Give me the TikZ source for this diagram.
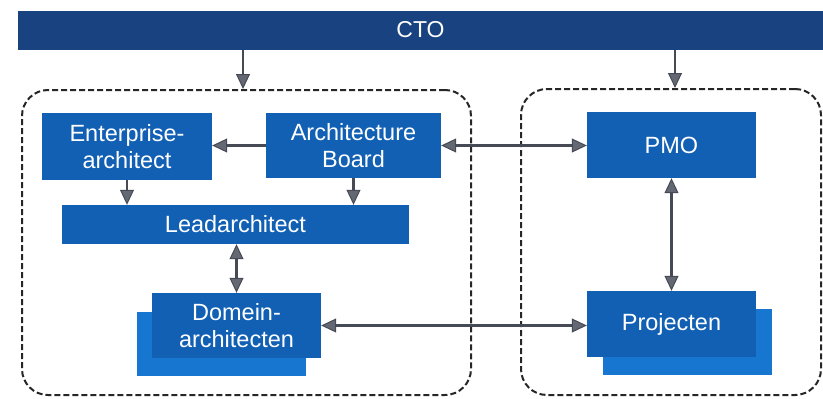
\documentclass[tikz,border=0pt]{standalone}
\usepackage{fontspec}
\setmainfont{Liberation Sans}
\usetikzlibrary{arrows.meta}
\definecolor{ctoblue}{RGB}{24,66,128}
\definecolor{boxblue}{RGB}{18,96,180}
\definecolor{backblue}{RGB}{22,118,208}
\definecolor{linkgray}{RGB}{70,74,84}
\definecolor{tipgray}{RGB}{100,104,114}
\tikzset{
	box/.style={fill=boxblue, text=white, align=center, inner sep=0pt, font=\fontsize{23.5}{27}\selectfont},
	backbox/.style={fill=backblue, inner sep=0pt},
	group/.style={draw=black!85, line width=2pt, dash pattern=on 6pt off 3pt, rounded corners=26pt, inner sep=0pt},
	tip/.style={Triangle[length=15pt,width=14pt,fill=tipgray,line width=1pt]},
	link/.style={draw=linkgray, line width=2.4pt, -{Triangle[length=15pt,width=14pt,fill=tipgray,line width=1pt]}},
	dlink/.style={draw=linkgray, line width=2.4pt, {Triangle[length=15pt,width=14pt,fill=tipgray,line width=1pt]}-{Triangle[length=15pt,width=14pt,fill=tipgray,line width=1pt]}},
}

\begin{document}
\begin{tikzpicture}[x=1pt, y=-1pt]
			%%%%% START %%%%%
			\useasboundingbox (0, 0) rectangle (823, 399);
			
			\node[fill=ctoblue, text=white, inner sep=0pt, minimum width=805pt, minimum height=39pt, font=\fontsize{23}{26}\selectfont] (cto) at (420.5, 30) {CTO};
			
			\node[group, minimum width=449pt, minimum height=305pt] (grpL) at (246.5, 242.5) {};
			\node[group, minimum width=300pt, minimum height=306pt] (grpR) at (671, 242) {};
			
			\node[box, minimum width=170pt, minimum height=67pt] (ent) at (127, 146.5) {Enterprise-\\architect};
			\node[box, minimum width=175pt, minimum height=65pt] (board) at (353.5, 145.5) {Architecture\\Board};
			\node[box, minimum width=347pt, minimum height=39pt] (lead) at (235.5, 224.5) {Leadarchitect};
			
			\node[backbox, minimum width=169pt, minimum height=64pt] (domback) at (221.5, 344) {};
			\node[box, minimum width=169pt, minimum height=65pt] (dom) at (236.5, 325.5) {Domein-\\architecten};
			
			\node[box, minimum width=169pt, minimum height=66pt] (pmo) at (671.5, 145) {PMO};
			\node[backbox, minimum width=169pt, minimum height=66pt] (projback) at (687.5, 342) {};
			\node[box, minimum width=169pt, minimum height=66pt] (proj) at (671.5, 324) {Projecten};
			
			\draw[link] (cto.south -| 243, 0) -- (grpL.north -| 243, 0);
			\draw[link] (cto.south -| 675, 0) -- (grpR.north -| 675, 0);
			
			\draw[link] (board.west) -- (ent.east |- board.west);
			\draw[link] (ent.south) -- (ent.south |- lead.north);
			\draw[link] (board.south) -- (board.south |- lead.north);
			\draw[dlink] (dom.north |- lead.south) -- (dom.north);
			
			\draw[dlink] (board.east) -- (pmo.west |- board.east);
			\draw[dlink] (dom.east) -- (proj.west |- dom.east);
			\draw[dlink] (pmo.south) -- (proj.north);
			%%%%% END %%%%%
\end{tikzpicture}
\end{document}
